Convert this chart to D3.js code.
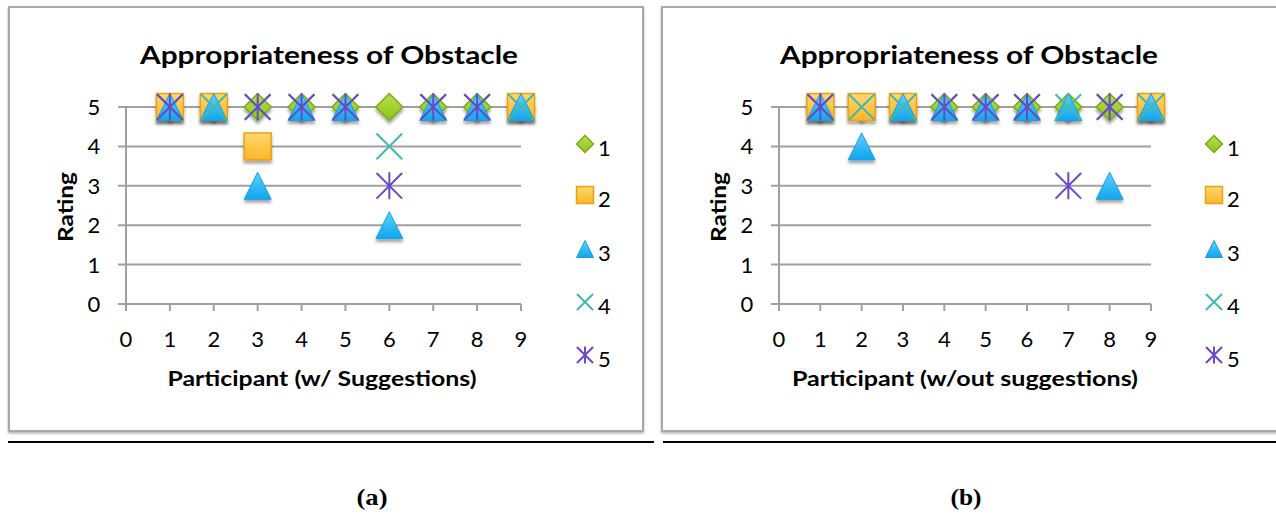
<!DOCTYPE html>
<html><head><meta charset="utf-8">
<script src="https://cdn.jsdelivr.net/npm/d3@7"></script>
<style>body{margin:0;background:#fff;}svg{display:block;}</style>
</head><body>
<svg id="c" width="1276" height="514"></svg>
<script>
// ---- data ----
const participants = [1,2,3,4,5,6,7,8,9];
const seriesNames = ["1","2","3","4","5"];
const xTicks = [0,1,2,3,4,5,6,7,8,9];
const yTicks = [0,1,2,3,4,5];
// Panel (a): w/ Suggestions
const a_s1 = [5,5,5,5,5,5,5,5,5];
const a_s2 = [5,5,4,null,null,null,null,null,5];
const a_s3 = [5,5,3,5,5,2,5,5,5];
const a_s4 = [5,5,5,5,5,4,5,5,5];
const a_s5 = [5,null,5,5,5,3,5,5,null];
// Panel (b): w/out suggestions
const b_s1 = [5,5,5,5,5,5,5,5,5];
const b_s2 = [5,5,5,null,null,null,null,null,5];
const b_s3 = [5,4,5,5,5,5,5,3,5];
const b_s4 = [5,5,5,5,5,5,5,5,5];
const b_s5 = [5,null,null,5,5,5,3,5,null];
const titleText = "Appropriateness of Obstacle";
const yLabel = "Rating";
const xLabelA = "Participant (w/ Suggestions)";
const xLabelB = "Participant (w/out suggestions)";
const captions = ["(a)","(b)"];

const svg = d3.select("#c");
const defs = svg.append("defs");
const f = defs.append("filter").attr("id","sh").attr("x","-50%").attr("y","-50%").attr("width","200%").attr("height","200%");
f.append("feDropShadow").attr("dx",0).attr("dy",3).attr("stdDeviation",1.8).attr("flood-color","#000").attr("flood-opacity",0.35);
const fb = defs.append("filter").attr("id","boxsh").attr("x","-5%").attr("y","-5%").attr("width","110%").attr("height","110%");
fb.append("feDropShadow").attr("dx",0).attr("dy",1.5).attr("stdDeviation",1).attr("flood-color","#000").attr("flood-opacity",0.3);

function grad(id, c1, c2){
  const g = defs.append("linearGradient").attr("id",id).attr("x1",0).attr("y1",0).attr("x2",0).attr("y2",1);
  g.append("stop").attr("offset","0%").attr("stop-color",c1);
  g.append("stop").attr("offset","100%").attr("stop-color",c2);
}
grad("gDia","#b8e04a","#8fc21c");
grad("gSq","#ffd86e","#fbb52a");
grad("gTri","#5fd0ff","#0fa5ef");

function drawMarker(g, type, x, y, h, shadow){
  const m = g.append("g").attr("transform",`translate(${x},${y})`);
  if (shadow) m.attr("filter","url(#sh)");
  if (type===0){
    m.append("path").attr("d",`M0,${-h}L${h},0L0,${h}L${-h},0Z`).attr("fill","url(#gDia)").attr("stroke","#7cab16").attr("stroke-width",1.5);
  } else if (type===1){
    m.append("rect").attr("x",-h).attr("y",-h).attr("width",2*h).attr("height",2*h).attr("fill","url(#gSq)").attr("stroke","#e9a216").attr("stroke-width",1.5);
  } else if (type===2){
    m.append("path").attr("d",`M0,${-h}L${h},${h}L${-h},${h}Z`).attr("fill","url(#gTri)").attr("stroke","#1aa0e0").attr("stroke-width",1);
  } else if (type===3){
    const k=h*0.95;
    m.append("path").attr("d",`M${-k},${-k}L${k},${k}M${-k},${k}L${k},${-k}`).attr("stroke","#45b8ad").attr("stroke-width",2).attr("fill","none");
  } else {
    const k=h*0.95;
    m.append("path").attr("d",`M${-k},${-k}L${k},${k}M${-k},${k}L${k},${-k}M0,${-h}L0,${h}`).attr("stroke","#6a48c8").attr("stroke-width",2).attr("fill","none");
  }
}

function panel(cfg){
  const g = svg.append("g");
  g.append("rect").attr("x",cfg.box[0]).attr("y",cfg.box[1]).attr("width",cfg.box[2]).attr("height",cfg.box[3])
    .attr("fill","#fff").attr("stroke","#a8a8a8").attr("stroke-width",2).attr("filter","url(#boxsh)");
  g.append("line").attr("x1",cfg.rule[0]).attr("x2",cfg.rule[1]).attr("y1",442).attr("y2",442).attr("stroke","#000").attr("stroke-width",2);
  const x = d3.scaleLinear().domain([0,9]).range(cfg.xr);
  const y = d3.scaleLinear().domain([0,5]).range([304,107]);
  g.append("g").selectAll("line").data(yTicks).join("line")
    .attr("x1",x(0)-8).attr("x2",x(9)).attr("y1",d=>y(d)).attr("y2",d=>y(d))
    .attr("stroke","#a0a0a0").attr("stroke-width",2);
  g.append("line").attr("x1",x(0)).attr("x2",x(0)).attr("y1",y(5)).attr("y2",y(0)+7).attr("stroke","#a0a0a0").attr("stroke-width",2);
  g.append("g").selectAll("line").data(xTicks).join("line")
    .attr("x1",d=>x(d)).attr("x2",d=>x(d)).attr("y1",y(0)).attr("y2",y(0)+7)
    .attr("stroke","#a0a0a0").attr("stroke-width",2);
  const font = "Lato, 'Open Sans', sans-serif";
  g.append("g").selectAll("text").data(yTicks).join("text")
    .attr("x",x(0)-32).attr("y",d=>y(d)+8).attr("text-anchor","middle")
    .attr("font-family",font).attr("font-size",22).attr("fill","#000").text(d=>d);
  g.append("g").selectAll("text").data(xTicks).join("text")
    .attr("x",d=>x(d)).attr("y",347).attr("text-anchor","middle")
    .attr("font-family",font).attr("font-size",22).attr("fill","#000").text(d=>d);
  g.append("text").attr("x",cfg.titleX).attr("y",64).attr("text-anchor","middle")
    .attr("font-family",font).attr("font-weight","bold").attr("font-size",24.5)
    .attr("textLength",378).attr("lengthAdjust","spacingAndGlyphs").text(titleText);
  g.append("text").attr("x",cfg.xlX).attr("y",386).attr("text-anchor","middle")
    .attr("font-family",font).attr("font-weight","bold").attr("font-size",20)
    .attr("textLength",cfg.xlW).attr("lengthAdjust","spacingAndGlyphs").text(cfg.xLabel);
  g.append("text").attr("transform",`translate(${cfg.ylX},207) rotate(-90)`).attr("text-anchor","middle")
    .attr("font-family",font).attr("font-weight","bold").attr("font-size",20)
    .attr("textLength",70).attr("lengthAdjust","spacingAndGlyphs").text(yLabel);
  const mg = g.append("g");
  cfg.series.forEach((vals, si) => {
    vals.forEach((v, i) => {
      if (v === null) return;
      drawMarker(mg, si, x(participants[i]), y(v), 13.5, si<3);
    });
  });
  const ly = [148,199,253,306,359];
  seriesNames.forEach((n, si) => {
    drawMarker(g, si, cfg.legX, ly[si]-4, 8.5, false);
    g.append("text").attr("x",cfg.legX+13).attr("y",ly[si]+8).attr("font-family",font).attr("font-size",22).text(n);
  });
  g.append("text").attr("x",cfg.capX).attr("y",505).attr("text-anchor","middle")
    .attr("font-family","'Liberation Serif', 'DejaVu Serif', serif").attr("font-weight","bold").attr("font-size",23)
    .attr("textLength",31).attr("lengthAdjust","spacingAndGlyphs").text(cfg.cap);
}

panel({box:[9,7,634,424], rule:[8,654], xr:[126,521], titleX:329, xlX:322, xlW:309, xLabel:xLabelA, ylX:73,
  series:[a_s1,a_s2,a_s3,a_s4,a_s5], legX:585, capX:372, cap:captions[0]});
panel({box:[662,7,620,424], rule:[663,1276], xr:[779,1151], titleX:969, xlX:965, xlW:346, xLabel:xLabelB, ylX:726,
  series:[b_s1,b_s2,b_s3,b_s4,b_s5], legX:1214, capX:966, cap:captions[1]});
</script>
</body></html>
